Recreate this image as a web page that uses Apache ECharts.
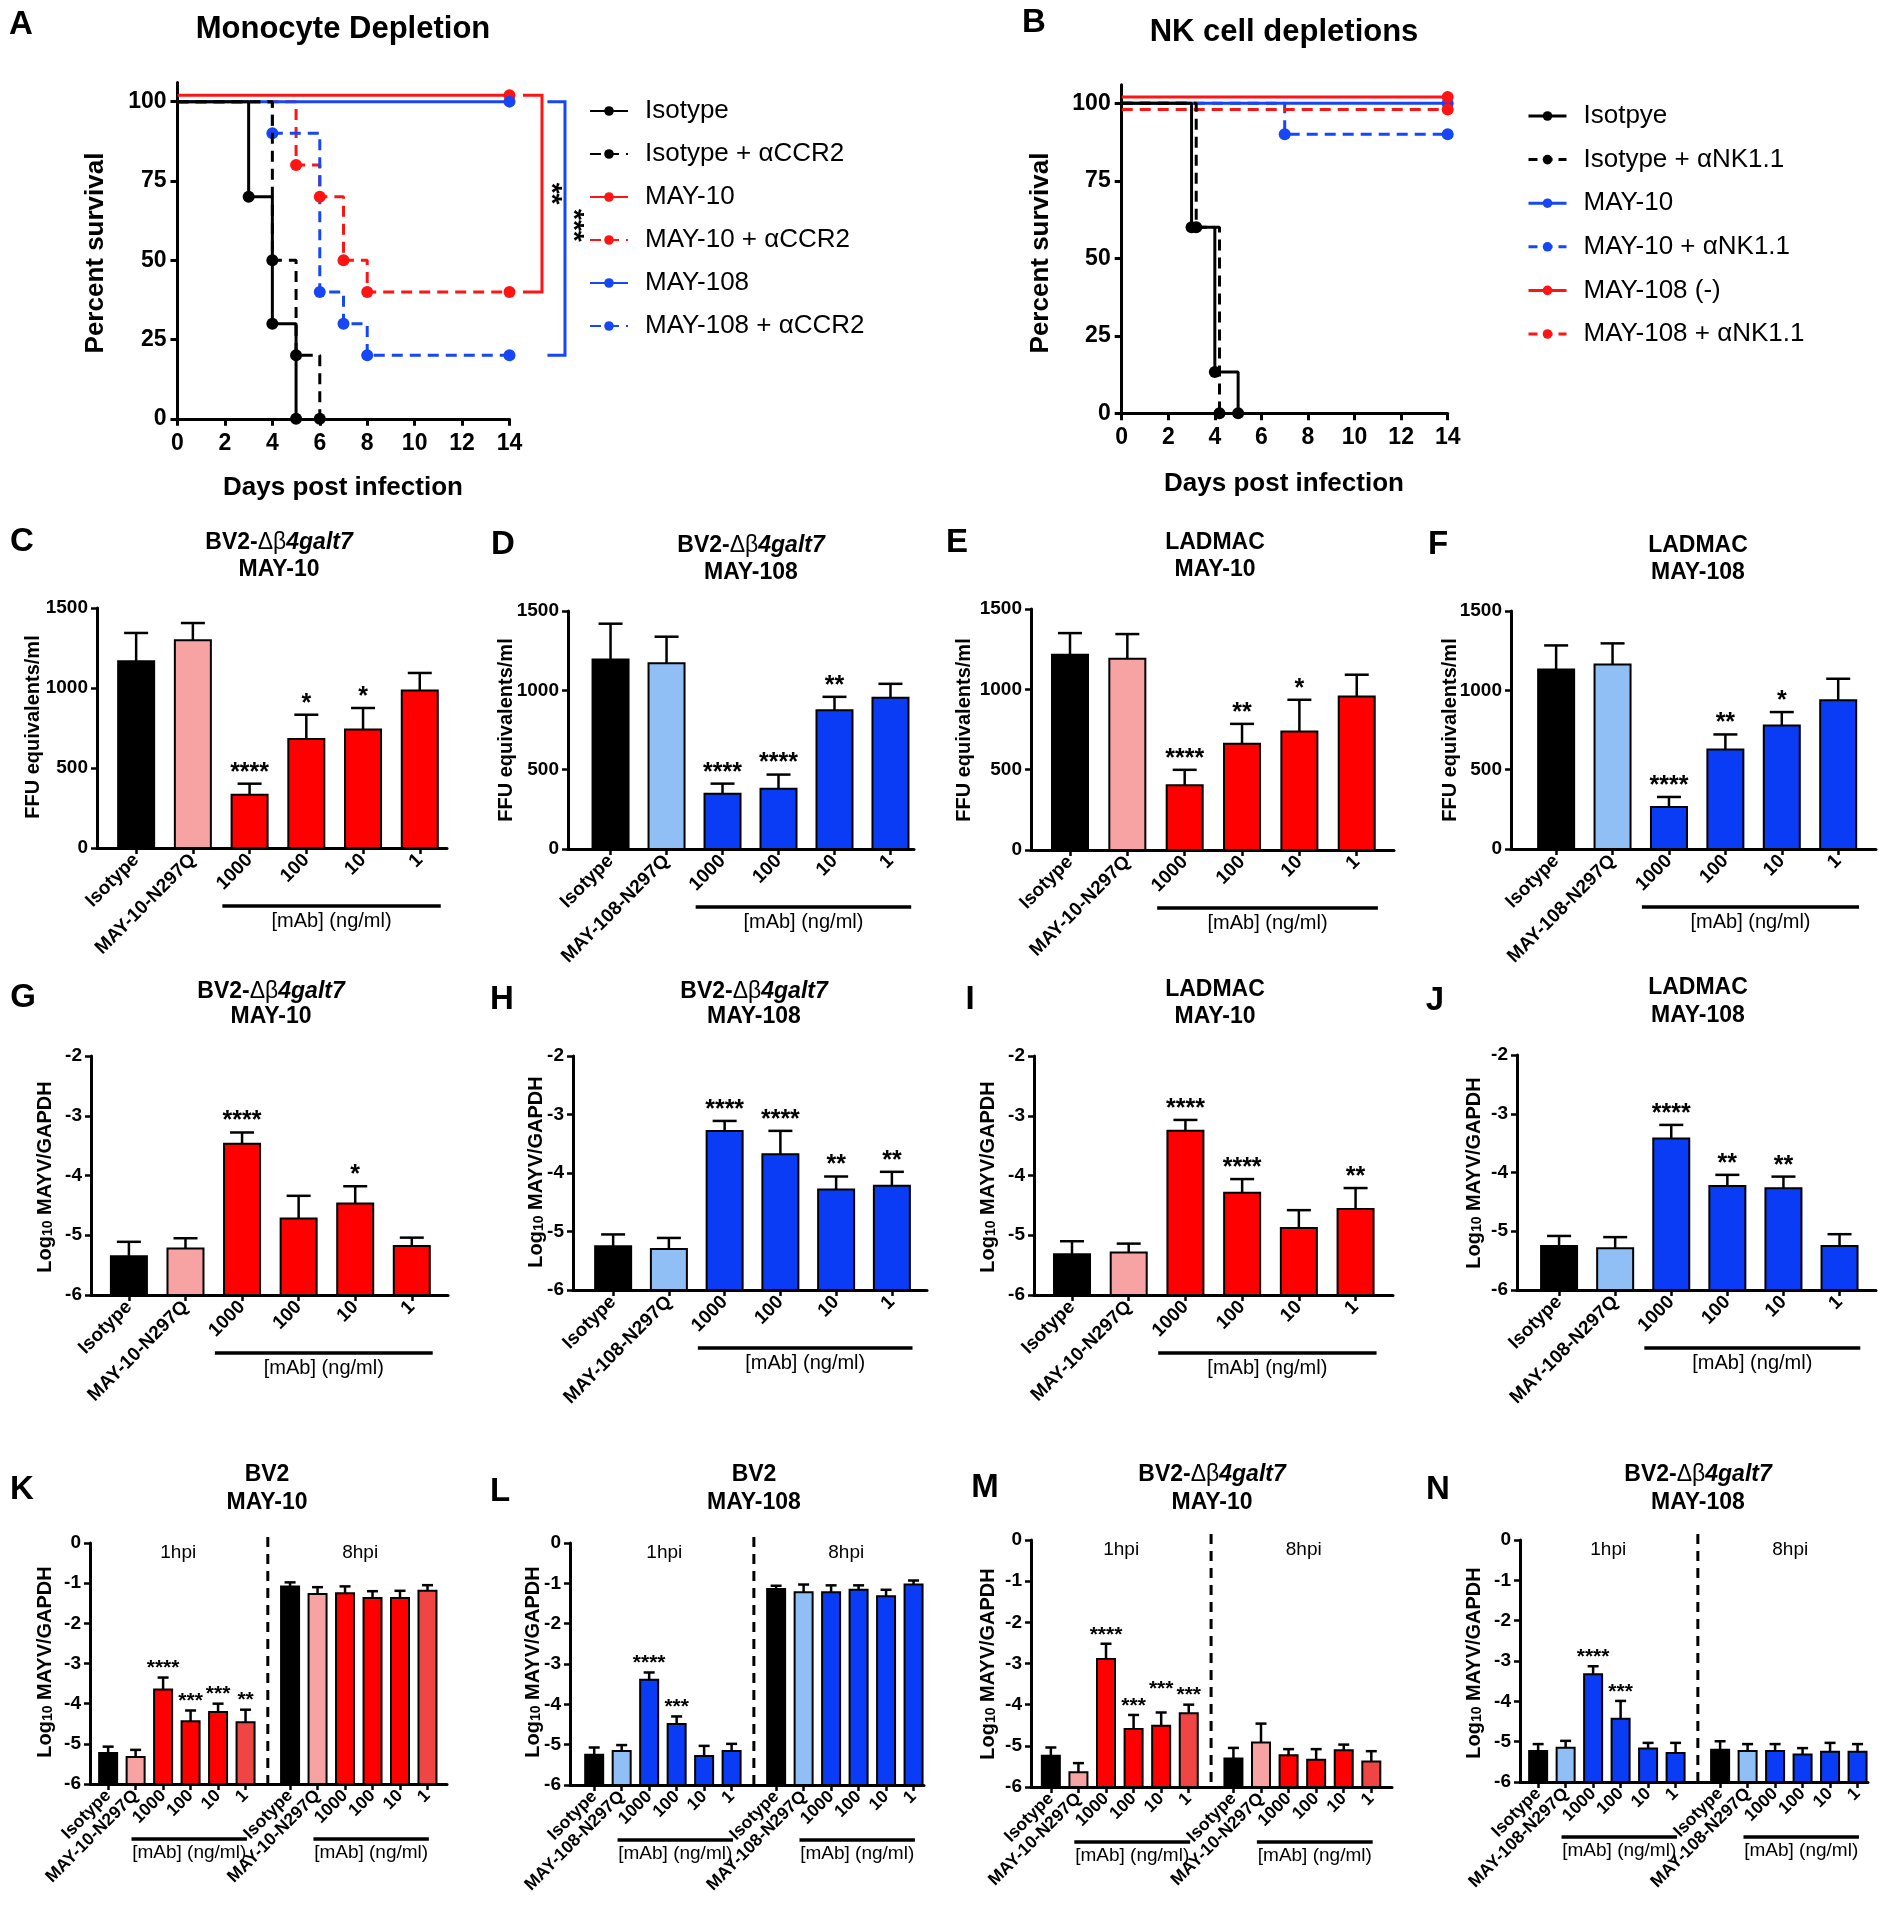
<!DOCTYPE html>
<html>
<head>
<meta charset="utf-8">
<title>Figure</title>
<script src="https://cdn.jsdelivr.net/npm/echarts@6.0.0/dist/echarts.min.js"></script>
<style>
html,body{margin:0;padding:0;background:#fff;}
#chart{width:1887px;height:1920px;}
</style>
</head>
<body>
<div id="chart"></div>
<script>
// ================= DATA =================
const survivalTicks = [0, 25, 50, 75, 100];
const dayTicksMax = 14;

// Panel A – Monocyte depletion ([day, % survival])
const A_names = ['Isotype', 'Isotype + αCCR2', 'MAY-10', 'MAY-10 + αCCR2', 'MAY-108', 'MAY-108 + αCCR2'];
const A_iso        = [[0,100],[3,70],[4,30],[5,0]];
const A_isoCCR2    = [[0,100],[4,50],[5,20],[6,0]];
const A_may10      = [[0,102],[14,102]];
const A_may10CCR2  = [[0,100],[5,80],[6,70],[7,50],[8,40],[14,40]];
const A_may108     = [[0,100],[14,100]];
const A_may108CCR2 = [[0,100],[4,90],[6,40],[7,30],[8,20],[14,20]];
// significance brackets A: [[x1,y1],[x2,y1],[x2,y2],[x1,y2]] and label
const A_sigRed  = {pts:[[14.57,102],[15.37,102],[15.37,40],[14.57,40]], label:'**',  at:[15.72,71]};
const A_sigBlue = {pts:[[15.6,100],[16.34,100],[16.34,20],[15.6,20]],  label:'***', at:[16.66,61]};

// Panel B – NK cell depletions
const B_names = ['Isotpye', 'Isotype + αNK1.1', 'MAY-10', 'MAY-10 + αNK1.1', 'MAY-108 (-)', 'MAY-108 + αNK1.1'];
const B_iso      = [[0,100],[3,60],[4,13.3],[5,0]];
const B_isoNK    = [[0,100],[3.2,60],[4.2,0]];
const B_may10    = [[0,100],[14,100]];
const B_may10NK  = [[0,100],[7,90],[14,90]];
const B_may108   = [[0,102],[14,102]];
const B_may108NK = [[0,98],[14,98]];

// Bar categories
const cats10  = ['Isotype', 'MAY-10-N297Q', '1000', '100', '10', '1'];
const cats108 = ['Isotype', 'MAY-108-N297Q', '1000', '100', '10', '1'];
const mabLabel = '[mAb] (ng/ml)';
const hpiLabels = ['1hpi', '8hpi'];

// C–F : FFU equivalents/ml (mean, SEM)
const C_mean = [1167, 1298, 333, 681, 740, 985];
const C_sem  = [177, 108, 69, 152, 135, 109];
const C_stars = ['', '', '****', '*', '*', ''];
const D_mean = [1195, 1170, 349, 379, 875, 953];
const D_sem  = [225, 168, 63, 90, 84, 88];
const D_stars = ['', '', '****', '****', '**', ''];
const E_mean = [1215, 1190, 403, 661, 738, 956];
const E_sem  = [135, 154, 96, 124, 197, 135];
const E_stars = ['', '', '****', '**', '*', ''];
const F_mean = [1132, 1163, 265, 627, 778, 938];
const F_sem  = [151, 133, 63, 95, 85, 135];
const F_stars = ['', '', '****', '**', '*', ''];

// G–J : Log10 MAYV/GAPDH
const G_mean = [-5.35, -5.22, -3.47, -4.72, -4.47, -5.18];
const G_sem  = [0.24, 0.17, 0.19, 0.38, 0.29, 0.14];
const G_stars = ['', '', '****', '', '*', ''];
const H_mean = [-5.25, -5.30, -3.28, -3.68, -4.28, -4.22];
const H_sem  = [0.20, 0.19, 0.17, 0.40, 0.22, 0.24];
const H_stars = ['', '', '****', '****', '**', '**'];
const I_mean = [-5.32, -5.29, -3.25, -4.29, -4.88, -4.56];
const I_sem  = [0.22, 0.15, 0.18, 0.23, 0.30, 0.35];
const I_stars = ['', '', '****', '****', '', '**'];
const J_mean = [-5.25, -5.29, -3.42, -4.23, -4.27, -5.25];
const J_sem  = [0.17, 0.19, 0.23, 0.19, 0.20, 0.20];
const J_stars = ['', '', '****', '**', '**', ''];

// K–N : 1hpi (first 6) then 8hpi (last 6)
const K_mean = [-5.23, -5.33, -3.65, -4.44, -4.21, -4.46,  -1.08, -1.27, -1.25, -1.37, -1.37, -1.19];
const K_sem  = [0.16, 0.18, 0.30, 0.27, 0.21, 0.31,  0.10, 0.17, 0.17, 0.17, 0.18, 0.14];
const K_stars = ['', '', '****', '***', '***', '**', '', '', '', '', '', ''];
const L_mean = [-5.25, -5.16, -3.39, -4.49, -5.28, -5.16,  -1.14, -1.22, -1.22, -1.16, -1.32, -1.03];
const L_sem  = [0.18, 0.15, 0.18, 0.19, 0.25, 0.18,  0.08, 0.19, 0.17, 0.11, 0.16, 0.10];
const L_stars = ['', '', '****', '***', '', '', '', '', '', '', '', ''];
const M_mean = [-5.24, -5.64, -2.89, -4.59, -4.51, -4.21,  -5.31, -4.92, -5.23, -5.34, -5.11, -5.38];
const M_sem  = [0.20, 0.22, 0.37, 0.34, 0.32, 0.21,  0.26, 0.46, 0.15, 0.26, 0.14, 0.25];
const M_stars = ['', '', '****', '***', '***', '***', '', '', '', '', '', ''];
const N_mean = [-5.23, -5.15, -3.33, -4.43, -5.17, -5.28,  -5.20, -5.23, -5.23, -5.32, -5.25, -5.25];
const N_sem  = [0.17, 0.17, 0.20, 0.44, 0.14, 0.25,  0.21, 0.17, 0.17, 0.16, 0.22, 0.19];
const N_stars = ['', '', '****', '***', '', '', '', '', '', '', '', ''];

// ================= STYLE / LAYOUT =================
const FF = '"Liberation Sans", Arial, Helvetica, sans-serif';
const BLACK = '#000000', PINK = '#F7A3A3', RED = '#FF0000', LRED = '#F04545';
const LBLUE = '#8FBFF5', BLUE = '#0A3CF5', SRED = '#FF1414', SBLUE = '#1646F5';
const palRed6 = [BLACK, PINK, RED, RED, RED, RED];
const palBlue6 = [BLACK, LBLUE, BLUE, BLUE, BLUE, BLUE];
const palRed12 = [BLACK, PINK, RED, RED, RED, LRED, BLACK, PINK, RED, RED, RED, LRED];
const palBlue12 = palBlue6.concat(palBlue6);
const GROUP2_SHIFT = 0.62;   // extra gap between 1hpi and 8hpi groups (in bar slots)
const SEP_POS = 5.81;        // dashed separator position

const TITLE_BV2 = '{b|BV2-}{r|Δβ}{i|4galt7}';

const panels = [
  {L:'C', t1:TITLE_BV2, t2:'MAY-10',  cats:cats10,  mean:C_mean, sem:C_sem, stars:C_stars, pal:palRed6,  kind:'ffu',
   grid:[97,608,350,240],  x:[-0.69,5.48], letter:[22,542],  title:[279,543,570],  yt:[33,727]},
  {L:'D', t1:TITLE_BV2, t2:'MAY-108', cats:cats108, mean:D_mean, sem:D_sem, stars:D_stars, pal:palBlue6, kind:'ffu',
   grid:[568,611,346,238], x:[-0.76,5.42], letter:[503,545], title:[751,546,573],  yt:[506,730]},
  {L:'E', t1:'{b|LADMAC}', t2:'MAY-10',  cats:cats10,  mean:E_mean, sem:E_sem, stars:E_stars, pal:palRed6,  kind:'ffu',
   grid:[1031,609,363,241], x:[-0.68,5.65], letter:[957,543], title:[1215,543,570], yt:[964,730]},
  {L:'F', t1:'{b|LADMAC}', t2:'MAY-108', cats:cats108, mean:F_mean, sem:F_sem, stars:F_stars, pal:palBlue6, kind:'ffu',
   grid:[1511,611,365,238], x:[-0.8,5.67], letter:[1438,545], title:[1698,546,573], yt:[1450,730]},
  {L:'G', t1:TITLE_BV2, t2:'MAY-10',  cats:cats10,  mean:G_mean, sem:G_sem, stars:G_stars, pal:palRed6,  kind:'log',
   grid:[91,1056,357,239], x:[-0.67,5.64], letter:[23,998],  title:[271,992,1017], yt:[42,1177]},
  {L:'H', t1:TITLE_BV2, t2:'MAY-108', cats:cats108, mean:H_mean, sem:H_sem, stars:H_stars, pal:palBlue6, kind:'log',
   grid:[573,1056,354,234], x:[-0.72,5.63], letter:[502,1000], title:[754,992,1017], yt:[533,1172]},
  {L:'I', t1:'{b|LADMAC}', t2:'MAY-10',  cats:cats10,  mean:I_mean, sem:I_sem, stars:I_stars, pal:palRed6,  kind:'log',
   grid:[1034,1056,359,239], x:[-0.67,5.66], letter:[970,1000], title:[1215,990,1017], yt:[985,1177]},
  {L:'J', t1:'{b|LADMAC}', t2:'MAY-108', cats:cats108, mean:J_mean, sem:J_sem, stars:J_stars, pal:palBlue6, kind:'log',
   grid:[1517,1055,359,235], x:[-0.75,5.65], letter:[1435,1001], title:[1698,988,1016], yt:[1471,1173]},
  {L:'K', t1:'{b|BV2}', t2:'MAY-10',  cats:cats10.concat(cats10),   mean:K_mean, sem:K_sem, stars:K_stars, pal:palRed12,  kind:'hpi',
   grid:[90,1543,357,241], x:[-0.66,12.33], letter:[22,1490], title:[267,1475,1503], yt:[42,1662], lift:{}},
  {L:'L', t1:'{b|BV2}', t2:'MAY-108', cats:cats108.concat(cats108), mean:L_mean, sem:L_sem, stars:L_stars, pal:palBlue12, kind:'hpi',
   grid:[570,1543,354,242], x:[-0.88,12.0], letter:[500,1492], title:[754,1475,1503], yt:[530,1662], lift:{}},
  {L:'M', t1:TITLE_BV2, t2:'MAY-10',  cats:cats10.concat(cats10),   mean:M_mean, sem:M_sem, stars:M_stars, pal:palRed12,  kind:'hpi',
   grid:[1031,1540,361,247], x:[-0.72,12.37], letter:[985,1488], title:[1212,1475,1503], yt:[985,1664], lift:{4:14}},
  {L:'N', t1:TITLE_BV2, t2:'MAY-108', cats:cats108.concat(cats108), mean:N_mean, sem:N_sem, stars:N_stars, pal:palBlue12, kind:'hpi',
   grid:[1520,1540,348,242], x:[-0.66,12.0], letter:[1438,1490], title:[1698,1475,1503], yt:[1471,1663], lift:{}}
];

const kinds = {
  ffu: {y:[0,1500,500], yTitle:'ffu', barW:36, capW:24, xFont:19, starFont:25, starOff:11, mabFont:20, mabDy:58, mabTextDy:73, groups:[0], mabSpan:[1.52,5.37]},
  log: {y:[-6,-2,1],    yTitle:'log', barW:36, capW:24, xFont:19, starFont:25, starOff:11, mabFont:20, mabDy:58, mabTextDy:73, groups:[0], mabSpan:[1.52,5.37]},
  hpi: {y:[-6,0,1],     yTitle:'log', barW:18, capW:11, xFont:17.5, starFont:21, starOff:9,  mabFont:19, mabDy:55, mabTextDy:69, groups:[0, 6 + GROUP2_SHIFT], mabSpan:[0.85,5.05]}
};

// ================= BUILD =================
const chart = echarts.init(document.getElementById('chart'), null, {renderer:'canvas'});
const grids = [], xAxes = [], yAxes = [], series = [], legends = [];
const AX = (w) => ({show:true, onZero:false, lineStyle:{color:'#000', width:w}});
const TK = (len, w, cv) => { const o = {show:true, inside:false, length:len, lineStyle:{color:'#000', width:w}}; if (cv) o.customValues = cv; return o; };
const LB = (size, extra) => Object.assign({color:'#000', fontSize:size, fontWeight:'bold', fontFamily:FF}, extra || {});
const plain = (v) => String(v);

// ---- survival panels ----
const survDefs = [
  {names:A_names, data:[A_iso, A_isoCCR2, A_may10, A_may10CCR2, A_may108, A_may108CCR2], colors:[BLACK,BLACK,SRED,SRED,SBLUE,SBLUE],
   grid:[177.5, 82.6, 332, 336.2], legend:[584, 93, 17]},
  {names:B_names, data:[B_iso, B_isoNK, B_may10, B_may10NK, B_may108, B_may108NK], colors:[BLACK,BLACK,SBLUE,SBLUE,SRED,SRED],
   grid:[1121.7, 84.7, 326, 328.6], legend:[1522, 98, 17.6]}
];
const dashedFlags = [false, true, false, true, false, true];

survDefs.forEach((d, gi) => {
  grids.push({left:d.grid[0], top:d.grid[1], width:d.grid[2], height:d.grid[3]});
  xAxes.push({gridIndex:gi, type:'value', min:0, max:dayTicksMax, interval:2,
    axisLine:AX(3), axisTick:TK(7, 3), axisLabel:LB(23, {margin:13}), splitLine:{show:false}});
  yAxes.push({gridIndex:gi, type:'value', min:0, max:106,
    axisLine:AX(3), axisTick:TK(7, 3, survivalTicks), axisLabel:LB(23, {margin:11, customValues:survivalTicks}), splitLine:{show:false}});
  d.names.forEach((name, i) => {
    const color = d.colors[i];
    series.push({
      type:'line', name, xAxisIndex:gi, yAxisIndex:gi, step:'end',
      symbol:'circle', symbolSize:12, showAllSymbol:true,
      data: d.data[i].map((p, k) => k === 0 ? {value:p, symbol:'none'} : {value:p}),
      lineStyle:{color, width:3, type: dashedFlags[i] ? [11, 7] : 'solid'},
      itemStyle:{color}, z: color === BLACK ? 6 : 4, silent:true, animation:false
    });
  });
  legends.push({
    orient:'vertical', left:d.legend[0], top:d.legend[1], itemGap:d.legend[2],
    itemWidth:38, itemHeight:12, selectedMode:false,
    data: d.names.map((n, i) => gi === 1 ? {name:n, itemStyle:{color:d.colors[i]}, lineStyle:{color:d.colors[i], type: dashedFlags[i] ? [9,6] : 'solid', width:3}} : n),
    textStyle:{fontSize:26, color:'#000', fontFamily:FF, padding:[0,0,0,12]}
  });
});

// ---- bar panels ----
function barPositions(n) { const out = []; for (let i = 0; i < n; i++) out.push(i < 6 ? i : i + GROUP2_SHIFT); return out; }

panels.forEach((p, idx) => {
  const gi = idx + 2;
  const k = kinds[p.kind];
  const pos = barPositions(p.mean.length);
  const lift = p.lift || {};
  const labelMap = {};
  pos.forEach((v, i) => { labelMap[Math.round(v * 100)] = p.cats[i]; });
  grids.push({left:p.grid[0], top:p.grid[1], width:p.grid[2], height:p.grid[3]});
  xAxes.push({gridIndex:gi, type:'value', min:p.x[0], max:p.x[1],
    axisLine:AX(3), axisTick:TK(6, 2.5, pos),
    axisLabel:LB(k.xFont, {customValues:pos, rotate:45, margin:9, formatter:(v) => labelMap[Math.round(v * 100)] || ''}),
    splitLine:{show:false}});
  yAxes.push({gridIndex:gi, type:'value', min:k.y[0], max:k.y[1], interval:k.y[2],
    axisLine:AX(3), axisTick:TK(6, 2.5), axisLabel:LB(19, {margin:9, formatter:plain}), splitLine:{show:false}});
  const yMin = k.y[0];
  series.push({
    type:'custom', xAxisIndex:gi, yAxisIndex:gi, silent:true, animation:false,
    data: p.mean.map((m, i) => [pos[i], m, p.sem[i]]),
    renderItem: function (params, api) {
      const i = params.dataIndex;
      const x = api.value(0), v = api.value(1), s = api.value(2);
      const base = api.coord([x, yMin]);
      const top = api.coord([x, v]);
      const et = api.coord([x, v + s]);
      const children = [
        {type:'line', shape:{x1:top[0], y1:top[1], x2:et[0], y2:et[1]}, style:{stroke:'#000', lineWidth:2.5}},
        {type:'line', shape:{x1:et[0] - k.capW / 2, y1:et[1], x2:et[0] + k.capW / 2, y2:et[1]}, style:{stroke:'#000', lineWidth:2.5}},
        {type:'rect', shape:{x:base[0] - k.barW / 2, y:top[1], width:k.barW, height:base[1] - top[1]},
         style:{fill:p.pal[i], stroke:'#000', lineWidth:2}}
      ];
      if (p.stars[i]) {
        children.push({type:'text', x:et[0], y:et[1] - k.starOff - (lift[i] || 0),
          style:{text:p.stars[i], fontSize:k.starFont, fontWeight:'bold', fontFamily:FF, fill:'#000', align:'center', verticalAlign:'middle'}});
      }
      return {type:'group', children};
    }
  });
});

chart.setOption({
  animation:false,
  textStyle:{fontFamily:FF},
  grid:grids, xAxis:xAxes, yAxis:yAxes, legend:legends, series
});

// ================= ANNOTATIONS =================
const gfx = [];
function txt(x, y, text, size, weight, extra) {
  gfx.push(Object.assign({type:'text', x, y, silent:true,
    style:{text, fontSize:size, fontWeight:weight || 'bold', fontFamily:FF, fill:'#000', align:'center', verticalAlign:'middle'}}, extra || {}));
}
function richTitle(x, y, text, size) {
  gfx.push({type:'text', x, y, silent:true, style:{text, align:'center', verticalAlign:'middle',
    rich:{
      b:{fontSize:size, fontWeight:'bold', fontFamily:FF, fill:'#000'},
      r:{fontSize:size, fontWeight:'normal', fontFamily:FF, fill:'#000'},
      i:{fontSize:size, fontWeight:'bold', fontStyle:'italic', fontFamily:FF, fill:'#000'}
    }}});
}
function logTitle(x, y) {
  gfx.push({type:'text', x, y, rotation:Math.PI / 2, silent:true, style:{
    text:'{a|Log}{s|10}{a| MAYV/GAPDH}', align:'center', verticalAlign:'middle',
    rich:{
      a:{fontSize:20, fontWeight:'bold', fontFamily:FF, fill:'#000', lineHeight:26, verticalAlign:'bottom'},
      s:{fontSize:14, fontWeight:'bold', fontFamily:FF, fill:'#000', lineHeight:13, verticalAlign:'bottom'}
    }}});
}
function line(x1, y1, x2, y2, w, color, dash) {
  const st = {stroke:color || '#000', lineWidth:w};
  if (dash) st.lineDash = dash;
  gfx.push({type:'line', silent:true, shape:{x1, y1, x2, y2}, style:st});
}

// Survival panel texts
txt(21, 25, 'A', 33);
txt(343, 29, 'Monocyte Depletion', 31);
txt(96, 253, 'Percent survival', 26, 'bold', {rotation:Math.PI / 2});
txt(343, 488, 'Days post infection', 26);
txt(1034, 23, 'B', 33);
txt(1284, 32, 'NK cell depletions', 31);
txt(1041, 253, 'Percent survival', 26, 'bold', {rotation:Math.PI / 2});
txt(1284, 484, 'Days post infection', 26);

// significance brackets (panel A) through the axis scales
[[A_sigRed, SRED], [A_sigBlue, SBLUE]].forEach(([sig, color]) => {
  const pts = sig.pts.map(pt => chart.convertToPixel({gridIndex:0}, pt));
  gfx.push({type:'polyline', silent:true, shape:{points:pts}, style:{stroke:color, lineWidth:3, fill:null}});
  const at = chart.convertToPixel({gridIndex:0}, sig.at);
  txt(at[0], at[1], sig.label, 28, 'bold', {rotation:-Math.PI / 2});
});

// Bar panels annotations
panels.forEach((p, idx) => {
  const gi = idx + 2;
  const k = kinds[p.kind];
  txt(p.letter[0], p.letter[1], p.L, 33);
  richTitle(p.title[0], p.title[1], p.t1, 23);
  txt(p.title[0], p.title[2], p.t2, 23);
  if (k.yTitle === 'ffu') txt(p.yt[0], p.yt[1], 'FFU equivalents/ml', 20, 'bold', {rotation:Math.PI / 2});
  else logTitle(p.yt[0], p.yt[1]);
  const yBottom = p.grid[1] + p.grid[3];
  k.groups.forEach((off, g) => {
    const a = chart.convertToPixel({gridIndex:gi}, [off + k.mabSpan[0], k.y[0]]);
    const b = chart.convertToPixel({gridIndex:gi}, [off + k.mabSpan[1], k.y[0]]);
    line(a[0], yBottom + k.mabDy, b[0], yBottom + k.mabDy, 3.5);
    txt((a[0] + b[0]) / 2, yBottom + k.mabTextDy, mabLabel, k.mabFont, 'normal');
    if (p.kind === 'hpi') {
      const c = chart.convertToPixel({gridIndex:gi}, [off + 2.55, k.y[1]]);
      txt(c[0], c[1] + 10, hpiLabels[g], 19, 'normal');
    }
  });
  if (p.kind === 'hpi') {
    const t = chart.convertToPixel({gridIndex:gi}, [SEP_POS, k.y[1]]);
    const b = chart.convertToPixel({gridIndex:gi}, [SEP_POS, k.y[0]]);
    line(t[0], t[1] - 6, b[0], b[1], 3, '#000', [10, 7]);
  }
});

chart.setOption({graphic:gfx});
</script>
</body>
</html>
